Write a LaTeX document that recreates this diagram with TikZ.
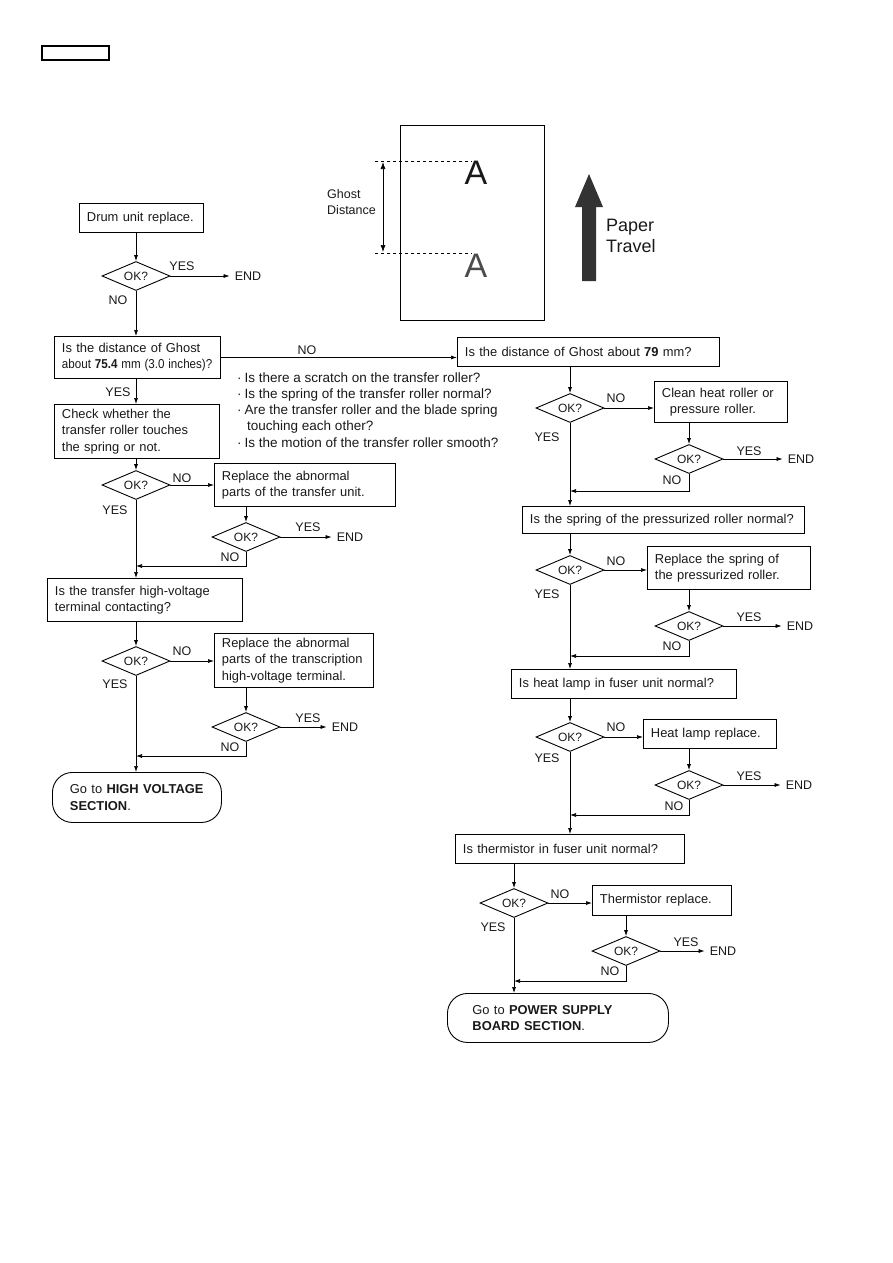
\documentclass[tikz,border=0pt]{standalone}
\usepackage{fontspec}
\usepackage{graphicx}
\setmainfont{Liberation Sans}
\usetikzlibrary{shapes.geometric,arrows.meta}
\begin{document}
\begin{tikzpicture}[x=1pt,y=-1pt,
  every node/.style={font=\fontsize{12.9}{16.3}\selectfont, text=black!90},
  box/.style n args={3}{draw, line width=0.9pt, anchor=north west, align=left,
     inner xsep=7.5pt, inner ysep=0pt, minimum width=#1pt, minimum height=#2pt, text width=#3pt},
  term/.style n args={4}{draw, line width=0.9pt, rounded corners=20pt, anchor=north west, align=left,
     inner xsep=#4pt, inner ysep=0pt, minimum width=#1pt, minimum height=#2pt, text width=#3pt},
  dia/.style={diamond, draw, line width=0.9pt, minimum width=68pt, minimum height=29pt,
     inner sep=0pt, aspect=2.3, font=\fontsize{12}{13}\selectfont},
  lbl/.style={inner sep=0pt, font=\fontsize{12.5}{14}\selectfont},
  arr/.style={-{Latex[length=6pt,width=4pt]}, line width=0.7pt},
  note/.style={anchor=west, inner sep=0pt, font=\fontsize{13.5}{16}\selectfont}
]
\useasboundingbox (0,0) rectangle (893,1263);

% header box
\draw[line width=1.2pt] (42,46) rectangle (109,60);

% ghost illustration
\draw[line width=1pt] (400,125) rectangle (544,320);
\draw[dashed, line width=0.7pt] (375,161) -- (472,161);
\draw[dashed, line width=0.7pt] (375,253) -- (472,253);
\draw[{Latex[length=7pt,width=5pt]}-{Latex[length=7pt,width=5pt]}, line width=0.7pt] (383,162) -- (383,252);
\node[anchor=west, align=left, inner sep=0pt, font=\fontsize{12.5}{16.5}\selectfont] (gd) at (327,202) {Ghost\\Distance};
\node[inner sep=0pt, font=\fontsize{34}{34}\selectfont] (a1) at (476,173) {A};
\node[inner sep=0pt, font=\fontsize{34}{34}\selectfont, text=black!70] (a2) at (476,266) {A};
\fill[black!80] (582,281) -- (582,207) -- (575,207) -- (589,174) -- (603,207) -- (596,207) -- (596,281) -- cycle;
\node[anchor=west, align=left, inner sep=0pt, font=\fontsize{18}{21}\selectfont] (pt) at (606,236) {Paper\\Travel};

% ---------------- left column ----------------
\node[box={124}{29}{109}] (drum) at (79,203) {\mbox{Drum unit replace.}};
\node[dia] (d1) at (136,276) {OK?};
\node[lbl] (yes1) at (182,266) {YES};
\node[lbl] (end1) at (248,276) {END};
\node[lbl] (no1) at (118,300) {NO};
\draw[arr] (d1.north |- drum.south) -- (d1.north);
\draw[arr] (d1.east) -- ([xshift=-5pt]end1.west);

\node[box={166}{42}{151}] (g75) at (54,336) {\mbox{Is the distance of Ghost}\\\scalebox{0.9}[1]{about \textbf{75.4} mm (3.0 inches)?}};
\draw[arr] (d1.south) -- (d1.south |- g75.north);

\node[box={262}{29}{247}] (g79) at (457,337) {\mbox{Is the distance of Ghost about \textbf{79} mm?}};
\draw[arr] (g75.east) -- (g75.east -| g79.west);
\node[lbl] (no0) at (307,350) {NO};

\node[note] (n1) at (237,378) {·\hspace{3pt}Is there a scratch on the transfer roller?};
\node[note] (n2) at (237,395) {·\hspace{3pt}Is the spring of the transfer roller normal?};
\node[note] (n3) at (237,411) {·\hspace{3pt}Are the transfer roller and the blade spring};
\node[note] (n4) at (247,427) {touching each other?};
\node[note] (n5) at (237,443) {·\hspace{3pt}Is the motion of the transfer roller smooth?};

\node[lbl] (yes0) at (118,392) {YES};
\node[box={165}{54}{150}] (chk) at (54,404) {\mbox{Check whether the}\\\mbox{transfer roller touches}\\\mbox{the spring or not.}};
\draw[arr] (g75.south -| d1.south) -- (chk.north -| d1.south);

\node[dia] (d2) at (136,485) {OK?};
\draw[arr] (chk.south -| d2.north) -- (d2.north);
\node[lbl] (no2) at (182,478) {NO};
\node[box={181}{43}{166}] (rep1) at (214,463) {\mbox{Replace the abnormal}\\\mbox{parts of the transfer unit.}};
\draw[arr] (d2.east) -- (d2.east -| rep1.west);
\node[dia] (d3) at (246,537) {OK?};
\draw[arr] (d3.north |- rep1.south) -- (d3.north);
\node[lbl] (yes3) at (308,527) {YES};
\node[lbl] (end3) at (350,537) {END};
\draw[arr] (d3.east) -- ([xshift=-5pt]end3.west);
\node[lbl] (no3) at (230,557) {NO};
\coordinate (j1) at (136,566);
\draw[arr] (d3.south) |- (j1);
\node[lbl] (yes2) at (115,510) {YES};

\node[box={195}{43}{180}] (hv) at (47,578) {\mbox{Is the transfer high-voltage}\\\mbox{terminal contacting?}};
\draw[arr] (d2.south) -- (d2.south |- hv.north);

\node[dia] (d4) at (136,661) {OK?};
\draw[arr] (hv.south -| d4.north) -- (d4.north);
\node[lbl] (no4) at (182,651) {NO};
\node[box={159}{54}{144}] (rep2) at (214,633) {\mbox{Replace the abnormal}\\\mbox{parts of the transcription}\\\mbox{high-voltage terminal.}};
\draw[arr] (d4.east) -- (d4.east -| rep2.west);
\node[dia] (d5) at (246,727) {OK?};
\draw[arr] (d5.north |- rep2.south) -- (d5.north);
\node[lbl] (yes5) at (308,718) {YES};
\node[lbl] (end5) at (345,727) {END};
\draw[arr] (d5.east) -- ([xshift=-5pt]end5.west);
\node[lbl] (no5) at (230,747) {NO};
\coordinate (j2) at (136,756);
\draw[arr] (d5.south) |- (j2);
\node[lbl] (yes4) at (115,684) {YES};

\node[term={169}{50}{134}{17.5}] (t1) at (52,772) {\mbox{Go to \textbf{HIGH VOLTAGE}}\\\mbox{\textbf{SECTION}.}};
\draw[arr] (d4.south) -- (d4.south |- t1.north);

% ---------------- right column ----------------
\node[dia] (d6) at (570,408) {OK?};
\draw[arr] (d6.north |- g79.south) -- (d6.north);
\node[lbl] (no6) at (616,398) {NO};
\node[box={133}{41}{118}] (clean) at (654,381) {\mbox{Clean heat roller or}\\\mbox{\hspace*{8pt}pressure roller.}};
\draw[arr] (d6.east) -- (d6.east -| clean.west);
\node[dia] (d7) at (689,459) {OK?};
\draw[arr] (d7.north |- clean.south) -- (d7.north);
\node[lbl] (yes7) at (749,451) {YES};
\node[lbl] (end7) at (801,459) {END};
\draw[arr] (d7.east) -- ([xshift=-5pt]end7.west);
\node[lbl] (no7) at (672,480) {NO};
\coordinate (j3) at (570,491);
\draw[arr] (d7.south) |- (j3);
\node[lbl] (yes6) at (547,437) {YES};

\node[box={282}{27}{267}] (spring) at (522,506) {\mbox{Is the spring of the pressurized roller normal?}};
\draw[arr] (d6.south) -- (d6.south |- spring.north);

\node[dia] (d8) at (570,570) {OK?};
\draw[arr] (spring.south -| d8.north) -- (d8.north);
\node[lbl] (no8) at (616,561) {NO};
\node[box={163}{43}{148}] (rspring) at (647,546) {\mbox{Replace the spring of}\\\mbox{the pressurized roller.}};
\draw[arr] (d8.east) -- (d8.east -| rspring.west);
\node[dia] (d9) at (689,626) {OK?};
\draw[arr] (d9.north |- rspring.south) -- (d9.north);
\node[lbl] (yes9) at (749,617) {YES};
\node[lbl] (end9) at (800,626) {END};
\draw[arr] (d9.east) -- ([xshift=-5pt]end9.west);
\node[lbl] (no9) at (672,646) {NO};
\coordinate (j4) at (570,656);
\draw[arr] (d9.south) |- (j4);
\node[lbl] (yes8) at (547,594) {YES};

\node[box={225}{29}{210}] (heat) at (511,669) {\mbox{Is heat lamp in fuser unit normal?}};
\draw[arr] (d8.south) -- (d8.south |- heat.north);

\node[dia] (d10) at (570,737) {OK?};
\draw[arr] (heat.south -| d10.north) -- (d10.north);
\node[lbl] (no10) at (616,727) {NO};
\node[box={133}{29}{118}] (hrep) at (643,719) {\mbox{Heat lamp replace.}};
\draw[arr] (d10.east) -- (d10.east -| hrep.west);
\node[dia] (d11) at (689,785) {OK?};
\draw[arr] (d11.north |- hrep.south) -- (d11.north);
\node[lbl] (yes11) at (749,776) {YES};
\node[lbl] (end11) at (799,785) {END};
\draw[arr] (d11.east) -- ([xshift=-5pt]end11.west);
\node[lbl] (no11) at (674,806) {NO};
\coordinate (j5) at (570,815);
\draw[arr] (d11.south) |- (j5);
\node[lbl] (yes10) at (547,758) {YES};

\node[box={229}{29}{214}] (therm) at (455,834) {\mbox{Is thermistor in fuser unit normal?}};
\draw[arr] (d10.south) -- (d10.south |- therm.north);

\node[dia] (d12) at (514,903) {OK?};
\draw[arr] (therm.south -| d12.north) -- (d12.north);
\node[lbl] (no12) at (560,894) {NO};
\node[box={139}{30}{124}] (trep) at (592,885) {\mbox{Thermistor replace.}};
\draw[arr] (d12.east) -- (d12.east -| trep.west);
\node[dia] (d13) at (626,951) {OK?};
\draw[arr] (d13.north |- trep.south) -- (d13.north);
\node[lbl] (yes13) at (686,942) {YES};
\node[lbl] (end13) at (723,951) {END};
\draw[arr] (d13.east) -- ([xshift=-5pt]end13.west);
\node[lbl] (no13) at (610,971) {NO};
\coordinate (j6) at (514,981);
\draw[arr] (d13.south) |- (j6);
\node[lbl] (yes12) at (493,927) {YES};

\node[term={221}{49}{171}{25}] (t2) at (447,993) {\mbox{Go to \textbf{POWER SUPPLY}}\\\mbox{\textbf{BOARD SECTION}.}};
\draw[arr] (d12.south) -- (d12.south |- t2.north);
\end{tikzpicture}
\end{document}
